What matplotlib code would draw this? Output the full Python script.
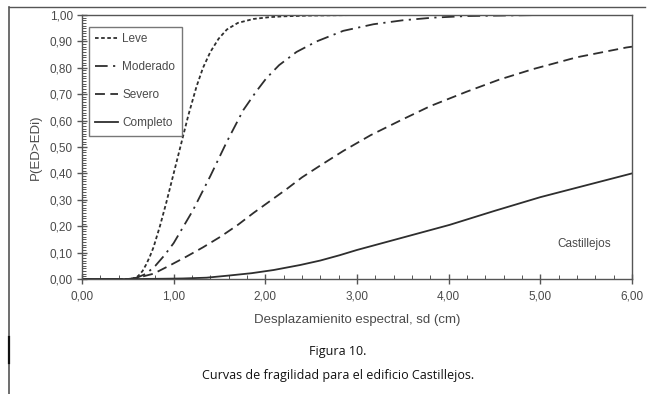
import matplotlib
matplotlib.use("Agg")
import matplotlib.pyplot as plt
from matplotlib.ticker import MultipleLocator, FuncFormatter
from matplotlib.lines import Line2D

# ---- data ----
leve_x = [0.0, 0.50, 0.56, 0.61, 0.66, 0.70, 0.74, 0.78, 0.85, 0.92, 1.00, 1.08, 1.16, 1.25, 1.32, 1.40, 1.49, 1.58, 1.70, 1.87, 2.05, 2.20, 2.50, 3.00, 4.00, 5.00, 6.00]
leve_y = [0.0, 0.0, 0.002, 0.01, 0.03, 0.055, 0.085, 0.12, 0.20, 0.29, 0.40, 0.51, 0.62, 0.73, 0.80, 0.86, 0.91, 0.945, 0.97, 0.985, 0.992, 0.995, 0.998, 1.0, 1.0, 1.0, 1.0]

mod_x = [0.0, 0.50, 0.60, 0.70, 0.80, 0.90, 1.00, 1.21, 1.40, 1.58, 1.76, 1.90, 2.01, 2.15, 2.34, 2.56, 2.85, 3.18, 3.50, 3.83, 4.20, 5.00, 6.00]
mod_y = [0.0, 0.0, 0.005, 0.02, 0.05, 0.09, 0.136, 0.26, 0.39, 0.52, 0.64, 0.71, 0.76, 0.81, 0.86, 0.90, 0.94, 0.965, 0.98, 0.99, 0.996, 1.0, 1.0]

sev_x = [0.0, 0.50, 0.60, 0.78, 0.95, 1.14, 1.32, 1.51, 1.70, 1.87, 2.05, 2.23, 2.40, 2.60, 2.85, 3.15, 3.47, 3.80, 4.20, 4.55, 4.92, 5.40, 5.94, 6.00]
sev_y = [0.0, 0.0, 0.004, 0.02, 0.05, 0.085, 0.12, 0.16, 0.205, 0.25, 0.295, 0.34, 0.385, 0.43, 0.485, 0.545, 0.60, 0.655, 0.71, 0.755, 0.795, 0.84, 0.877, 0.88]

comp_x = [0.0, 0.60, 0.90, 1.10, 1.36, 1.60, 1.85, 2.09, 2.38, 2.60, 2.81, 3.00, 3.50, 4.01, 4.50, 5.00, 5.50, 6.00]
comp_y = [0.0, 0.0, 0.001, 0.002, 0.005, 0.013, 0.022, 0.034, 0.053, 0.07, 0.09, 0.11, 0.157, 0.205, 0.258, 0.31, 0.355, 0.40]

labels = ["Leve", "Moderado", "Severo", "Completo"]
x_ticks = [0, 1, 2, 3, 4, 5, 6]
y_ticks = [0.0, 0.1, 0.2, 0.3, 0.4, 0.5, 0.6, 0.7, 0.8, 0.9, 1.0]

W, H = 648, 394
fig = plt.figure(figsize=(W / 100, H / 100), dpi=100)
ax = fig.add_axes([82 / W, 1 - 279 / H, (632 - 82) / W, (279 - 15) / H])

lc = "#2e2e2e"
lw = 1.3
ax.plot(leve_x, leve_y, color=lc, lw=lw, dashes=(2.0, 1.4), label=labels[0])
ax.plot(mod_x, mod_y, color=lc, lw=lw, dashes=(7, 3, 1.2, 3), label=labels[1])
ax.plot(sev_x, sev_y, color=lc, lw=lw, dashes=(5.5, 3), label=labels[2])
ax.plot(comp_x, comp_y, color=lc, lw=lw, label=labels[3])

ax.set_xlim(0, 6)
ax.set_ylim(0, 1)
ax.set_xticks(x_ticks)
ax.set_yticks(y_ticks)
ax.xaxis.set_minor_locator(MultipleLocator(0.2))
ax.yaxis.set_minor_locator(MultipleLocator(0.01))
fmt = FuncFormatter(lambda v, p: f"{v:.2f}".replace(".", ","))
ax.xaxis.set_major_formatter(fmt)
ax.yaxis.set_major_formatter(fmt)

tcol = "#4a4a4a"
font = "Liberation Sans"
for s in ax.spines.values():
    s.set_color("#555555")
    s.set_linewidth(1.0)
ax.tick_params(which="major", direction="inout", length=7, width=1.0, color="#555555",
               labelsize=8.5, labelcolor=tcol, pad=3)
ax.tick_params(which="minor", direction="in", length=3, width=0.7, color="#555555")
ax.tick_params(axis="x", which="major", pad=5)
for lab in ax.get_xticklabels() + ax.get_yticklabels():
    lab.set_fontfamily(font)

ax.set_xlabel("Desplazamienito espectral, sd (cm)", fontsize=9.5, color=tcol,
              fontfamily=font, labelpad=8)
ax.set_ylabel("P(ED>EDi)", fontsize=9.5, color=tcol, fontfamily=font, labelpad=6)

ax.text(5.48, 0.133, "Castillejos", fontsize=8.5, color=tcol, fontfamily=font,
        ha="center", va="center")

leg = ax.legend(loc="upper left", bbox_to_anchor=(7 / 550, 1 - 12 / 264), borderaxespad=0,
                frameon=True, fancybox=False, edgecolor="#555555",
                prop={"family": font, "size": 8.5}, labelspacing=1.35,
                handlelength=1.9, handletextpad=0.35, borderpad=0.55)
leg.get_frame().set_linewidth(1.0)
for t in leg.get_texts():
    t.set_color(tcol)

# figure frame lines
fig.add_artist(Line2D([9 / W, 645 / W], [1 - 7 / H, 1 - 7 / H], color="#555555", lw=1.0))
fig.add_artist(Line2D([9 / W, 9 / W], [0, 1 - 7 / H], color="#555555", lw=1.2))
fig.add_artist(Line2D([9 / W, 9 / W], [1 - 363 / H, 1 - 337 / H], color="#111111", lw=1.6))

cap = "Open Sans"
fig.text(338 / W, 1 - 351 / H, "Figura 10.", fontsize=9, fontfamily=cap, color="#111111",
         ha="center", va="center")
fig.text(338 / W, 1 - 376 / H, "Curvas de fragilidad para el edificio Castillejos.", fontsize=9,
         fontfamily=cap, color="#111111", ha="center", va="center")

fig.savefig("out.png", dpi=100)
